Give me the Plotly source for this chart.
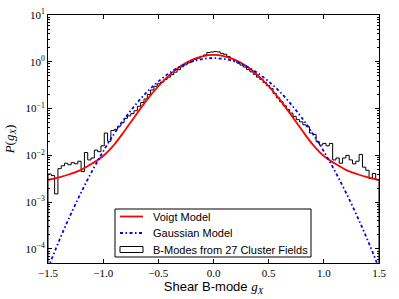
import plotly.graph_objects as go

# ---------------- data ----------------
bin_start = -1.5
bin_width = 0.03
hist_values = [
    0.0040, 0.0037, 0.0015, 0.0052, 0.0060, 0.0068, 0.0063, 0.0070, 0.0066, 0.0075,
    0.0045, 0.0115, 0.0080, 0.0088, 0.0130, 0.0120, 0.0160, 0.0300, 0.0200, 0.0340,
    0.036, 0.042, 0.050, 0.062, 0.070, 0.078, 0.090, 0.112, 0.135, 0.160,
    0.20, 0.25, 0.30, 0.34, 0.37, 0.42, 0.47, 0.53, 0.60, 0.68,
    0.78, 0.86, 0.95, 1.03, 1.12, 1.20, 1.30, 1.40, 1.58, 1.62,
    1.65, 1.63, 1.52, 1.45, 1.30, 1.18, 1.06, 0.95, 0.85, 0.77,
    0.68, 0.61, 0.54, 0.47, 0.42, 0.36, 0.31, 0.27, 0.21, 0.17,
    0.140, 0.115, 0.095, 0.080, 0.068, 0.058, 0.052, 0.045, 0.041, 0.030,
    0.028, 0.0195, 0.0166, 0.0180, 0.0160, 0.0180, 0.0080, 0.0088, 0.0068, 0.0088,
    0.0100, 0.0080, 0.0066, 0.0075, 0.0105, 0.0056, 0.0048, 0.0032, 0.0041, 0.0030,
]

model_x = [-1.5, -1.4, -1.3, -1.2, -1.1, -1.0, -0.9, -0.8, -0.7, -0.6, -0.5,
           -0.4, -0.3, -0.2, -0.1, 0.0, 0.1, 0.2, 0.3, 0.4, 0.5, 0.6, 0.7,
           0.8, 0.9, 1.0, 1.1, 1.2, 1.3, 1.4, 1.5]
voigt_values = [0.0030, 0.0034, 0.0040, 0.0049, 0.0067, 0.0097, 0.017, 0.035,
                0.075, 0.157, 0.30, 0.52, 0.80, 1.09, 1.31, 1.40, 1.31, 1.09,
                0.80, 0.52, 0.30, 0.157, 0.075, 0.035, 0.017, 0.0097, 0.0067,
                0.0049, 0.0040, 0.0034, 0.0030]
gauss_values = [3.9e-5, 1.48e-4, 5.12e-4, 1.61e-3, 4.63e-3, 0.01216, 0.0291,
                0.0635, 0.1265, 0.230, 0.381, 0.576, 0.794, 0.999, 1.146, 1.20,
                1.146, 0.999, 0.794, 0.576, 0.381, 0.230, 0.1265, 0.0635,
                0.0291, 0.01216, 4.63e-3, 1.61e-3, 5.12e-4, 1.48e-4, 3.9e-5]

x_ticks = [-1.5, -1.0, -0.5, 0.0, 0.5, 1.0, 1.5]
x_tick_labels = ["\u22121.5", "\u22121.0", "\u22120.5", "0.0", "0.5", "1.0", "1.5"]
y_ticks = [1e-4, 1e-3, 1e-2, 1e-1, 1e0, 1e1]
y_tick_labels = ["10<sup>\u22124</sup>", "10<sup>\u22123</sup>", "10<sup>\u22122</sup>",
                 "10<sup>\u22121</sup>", "10<sup>0</sup>", "10<sup>1</sup>"]

names = ["Voigt Model", "Gaussian Model", "B-Modes from 27 Cluster Fields"]

# ---------------- styling ----------------
serif = "Liberation Serif, DejaVu Serif, serif"
sans = "Liberation Sans, Arial, sans-serif"
RED = "#ff0000"
BLUE = "#0000ff"
GDASH = "3px,2.5px,1.5px,2.5px"

# ---------------- step outline of histogram ----------------
n = len(hist_values)
edges = [bin_start + i * bin_width for i in range(n + 1)]
step_x = [edges[0]] + edges[:-1] + [edges[-1], edges[-1]]
step_y = [1e-8] + hist_values + [hist_values[-1], 1e-8]

fig = go.Figure()
fig.add_trace(go.Scatter(
    x=step_x, y=step_y, mode="lines", line=dict(color="black", width=1, shape="hv"),
    name=names[2], showlegend=False, hoverinfo="skip",
))
fig.add_trace(go.Scatter(
    x=model_x, y=voigt_values, mode="lines",
    line=dict(color=RED, width=1.8, shape="spline"), name=names[0], showlegend=False,
))
fig.add_trace(go.Scatter(
    x=model_x, y=gauss_values, mode="lines",
    line=dict(color=BLUE, width=1.8, shape="spline", dash=GDASH),
    name=names[1], showlegend=False,
))

# ---------------- hand-made legend (matplotlib-like metrics) ----------------
L, T, W, H = 48, 15, 331, 248   # plot area in pixels
def px(x):
    return (x - L) / W
def py(y):
    return (T + H - y) / H

shapes = [
    dict(type="rect", xref="paper", yref="paper", x0=px(115), x1=px(311), y0=py(257), y1=py(209),
         line=dict(color="black", width=1), fillcolor="white", layer="above"),
    dict(type="line", xref="paper", yref="paper", x0=px(120), x1=px(143), y0=py(216.5), y1=py(216.5),
         line=dict(color=RED, width=1.8), layer="above"),
    dict(type="line", xref="paper", yref="paper", x0=px(120), x1=px(143), y0=py(233), y1=py(233),
         line=dict(color=BLUE, width=1.8, dash=GDASH), layer="above"),
    dict(type="rect", xref="paper", yref="paper", x0=px(120), x1=px(143), y0=py(252.5), y1=py(246.5),
         line=dict(color="black", width=1), fillcolor="white", layer="above"),
]
annotations = []
for name, yrow in zip(names, [216.5, 233, 249.5]):
    annotations.append(dict(
        text=name, xref="paper", yref="paper", x=px(151), y=py(yrow),
        xanchor="left", yanchor="middle", showarrow=False,
        font=dict(family=sans, size=11, color="black"),
    ))

fig.update_layout(
    width=399, height=299,
    margin=dict(l=48, r=20, t=15, b=36, autoexpand=False),
    paper_bgcolor="white", plot_bgcolor="white",
    showlegend=False,
    shapes=shapes, annotations=annotations,
)
fig.update_xaxes(
    range=[-1.5, 1.5], tickvals=x_ticks, ticktext=x_tick_labels, automargin=False,
    ticks="inside", ticklen=4, tickcolor="black", tickwidth=1,
    showline=True, linecolor="black", linewidth=1, mirror="allticks",
    showgrid=False, zeroline=False,
    tickfont=dict(family=serif, size=11, color="black"),
    title=dict(text="Shear B-mode <span style='font-family:Liberation Serif'><i>g</i><sub><i>X</i></sub></span>",
               font=dict(family=sans, size=13, color="black"), standoff=1),
)
minor_vals = [m * 10.0 ** e for e in range(-5, 1) for m in range(2, 10)]
fig.update_yaxes(
    type="log", range=[-4.3, 1.0], tickvals=y_ticks, ticktext=y_tick_labels, automargin=False,
    ticks="inside", ticklen=4, tickcolor="black", tickwidth=1,
    showline=True, linecolor="black", linewidth=1, mirror="allticks",
    showgrid=False, zeroline=False,
    tickfont=dict(family=serif, size=11, color="black"),
    minor=dict(tickvals=minor_vals, ticks="inside", ticklen=2, tickcolor="black", showgrid=False),
    title=dict(text="<i>P</i>(<i>g</i><sub><i>X</i></sub>)",
               font=dict(family=serif, size=13, color="black"), standoff=8),
)

fig.write_html(
    "out.html",
    config={"displayModeBar": False, "staticPlot": True},
    post_script="document.body.style.margin='0px';document.body.style.overflow='hidden';",
)
